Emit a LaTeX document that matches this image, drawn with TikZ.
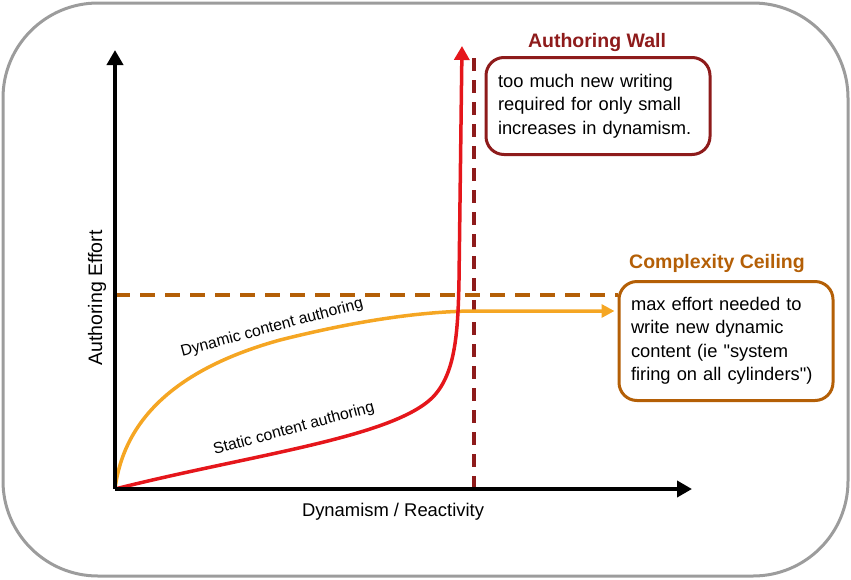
\documentclass[tikz,border=0pt]{standalone}
\usepackage{fontspec}
\setmainfont{Liberation Sans}
\usetikzlibrary{arrows.meta,calc,positioning}
\definecolor{wallred}{HTML}{8E1B1B}
\definecolor{ceilbrown}{HTML}{B45F06}
\definecolor{dynorange}{HTML}{F5A623}
\definecolor{statred}{HTML}{E5161B}
\definecolor{framegray}{HTML}{9C9C9C}

\begin{document}
\begin{tikzpicture}[x=1pt,y=-1pt,
	axis/.style={line width=4pt,-{Triangle[length=15pt,width=16pt]}},
	note/.style={draw,rounded corners=18pt,line width=3pt,fill=white,align=left,
		inner xsep=12pt,font=\fontsize{18.3}{23.5}\selectfont},
	heading/.style={font=\fontsize{19.5}{22}\selectfont\bfseries},
	curvelabel/.style={font=\fontsize{15.8}{18}\selectfont,rotate=15},
	axislabel/.style={font=\fontsize{18.4}{20}\selectfont}]
	\useasboundingbox (0,0) rectangle (851,579);
	\draw[framegray,line width=3pt,rounded corners=95pt] (3,3) rectangle (848,576);

	% boxes and headings
	\node[note,draw=wallred,minimum width=224pt,minimum height=97pt,text width=200pt] (wallbox) at (598,106)
		{too much new writing\\required for only small\\increases in dynamism.};
	\node[heading,text=wallred] (walltitle) at (597,42) {Authoring Wall};
	\node[note,draw=ceilbrown,minimum width=214pt,minimum height=119pt,text width=190pt] (ceilbox) at (726,341)
		{max effort needed to\\write new dynamic\\content (ie \textquotedbl system\\firing on all cylinders\textquotedbl)};
	\node[heading,text=ceilbrown] (ceiltitle) at (717,263) {Complexity Ceiling};

	% axes
	\coordinate (O) at (115,489);
	\coordinate (ytip) at (115,50);
	\coordinate (xtip) at (692,489);
	\node[axislabel,font=\fontsize{19.5}{21}\selectfont,rotate=90] (ylabel) at (97,298) {Authoring Effort};
	\node[axislabel] (xlabel) at (393,512) {Dynamism / Reactivity};

	% wall and ceiling
	\coordinate (walltop) at (474,58);
	\coordinate (wallfoot) at (474,489);
	\coordinate (ceilstart) at (115,295);
	\draw[wallred,line width=4pt,dash pattern=on 13pt off 9pt] (walltop) -- (wallfoot);
	\draw[ceilbrown,line width=3.5pt,dash pattern=on 15pt off 10pt] (ceilstart) -- (ceilstart -| ceilbox.west);

	% curves
	\coordinate (dynend) at ($(ceilbox.west)+(-3,-30)$);
	\coordinate (stattip) at (462,46);
	\draw[dynorange,line width=3.5pt,-{Triangle[length=13pt,width=13pt]}]
		(O) .. controls (125,410) and (190,365) .. (280,340)
		.. controls (360,320) and (420,312) .. (470,311) -- (dynend);
	\draw[statred,line width=3.5pt,-{Triangle[length=14pt,width=15pt]}]
		(O) .. controls (250,455) and (390,438) .. (432,398)
		.. controls (455,375) and (458,335) .. (459,280) -- (stattip);
	\node[curvelabel] (dynlabel) at (272,328) {Dynamic content authoring};
	\node[curvelabel] (statlabel) at (294,429) {Static content authoring};

	\draw[axis] (O) -- (ytip);
	\draw[axis] (O) -- (xtip);
\end{tikzpicture}
\end{document}
